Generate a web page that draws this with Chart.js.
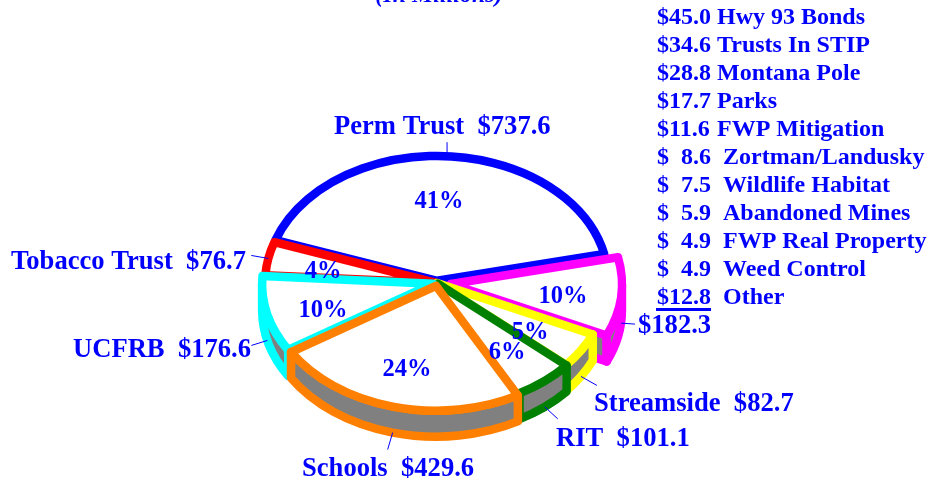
<!DOCTYPE html>
<html>
<head>
<meta charset="utf-8">
<style>html,body{margin:0;padding:0;background:#fff}canvas{display:block}</style>
<script src="https://cdn.jsdelivr.net/npm/chart.js@4/dist/chart.umd.min.js"></script>
</head>
<body>
<canvas id="c" width="927" height="482"></canvas>
<script>
// ---- data (clockwise from the left end of Perm Trust)
const categories = ['Perm Trust', 'Other', 'Streamside', 'RIT', 'Schools', 'UCFRB', 'Tobacco Trust'];
const values = [737.6, 182.3, 82.7, 101.1, 429.6, 176.6, 76.7];
const percentTexts = ['41%', '10%', '5%', '6%', '24%', '10%', '4%'];
const otherAmounts = ['$45.0', '$34.6', '$28.8', '$17.7', '$11.6', '$  8.6', '$  7.5', '$  5.9', '$  4.9', '$  4.9', '$12.8'];
const otherNames = ['Hwy 93 Bonds', 'Trusts In STIP', 'Montana Pole', 'Parks', 'FWP Mitigation', 'Zortman/Landusky', 'Wildlife Habitat', 'Abandoned Mines', 'FWP Real Property', 'Weed Control', 'Other'];
const otherTotal = '$182.3';
const unitsText = '(In Millions)';

// ---- style
const sliceColors = ['#0000ff', '#ff00ff', '#ffff00', '#008000', '#ff8000', '#00ffff', '#ff0000'];
const sliceOffsets = [3, 14, 0, 1, 4, 4, 1];
const paintOrder = [0, 6, 1, 2, 3, 5, 4];
const openEndEdge = [false, false, false, true, false, false, false];
const TEXT = '#0000ff', WALL = '#808080', SERIF = '"Liberation Serif"';
const SQUASH = 0.73, DEPTH = 26, LINE = 8.5;

// ---- text layout
const labelSpots = [[334, 134], [0, 0], [594, 411], [556, 446], [302, 476], [73, 357], [11, 269]];
const amountTexts = ['$737.6', '', '$82.7', '$101.1', '$429.6', '$176.6', '$76.7'];
const percentSpots = [[439, 208], [563, 303], [530, 339], [507, 359], [407, 376], [323, 317], [323, 278]];
const leaders = [[0, 0, -14], [1, 14, 1], [1, 16, 9], [1, 13, 12], [1, -5, 17], [1, -16, 5], [0, -17, -3]];

function geom(arc) {
  const p = arc.getProps(['x', 'y', 'startAngle', 'endAngle', 'outerRadius'], true);
  const mid = (p.startAngle + p.endAngle) / 2, off = arc.options.offset || 0;
  return {
    cx: p.x + off * Math.cos(mid), cy: p.y + off * Math.sin(mid) * SQUASH,
    rx: p.outerRadius, ry: p.outerRadius * SQUASH, s: p.startAngle, e: p.endAngle, mid, off
  };
}
function drawSlice(ctx, g, color, openEnd) {
  ctx.lineWidth = LINE; ctx.lineJoin = 'round'; ctx.lineCap = 'round'; ctx.strokeStyle = color; ctx.fillStyle = WALL;
  const two = Math.PI * 2;
  let s = ((g.s % two) + two) % two; if (s >= Math.PI) s -= two;
  const e = s + (g.e - g.s), lo = Math.max(s, 0), hi = Math.min(e, Math.PI);
  // radial face of a slice pulled well out of the pie
  if (g.off >= 10) {
    const x = g.cx + g.rx * Math.cos(g.e), y = g.cy + g.ry * Math.sin(g.e);
    ctx.beginPath();
    ctx.moveTo(g.cx, g.cy); ctx.lineTo(x, y); ctx.lineTo(x, y + DEPTH); ctx.lineTo(g.cx, g.cy + DEPTH);
    ctx.closePath(); ctx.fill(); ctx.stroke();
  }
  // outer wall
  if (hi > lo) {
    ctx.beginPath();
    ctx.ellipse(g.cx, g.cy, g.rx, g.ry, 0, lo, hi);
    ctx.ellipse(g.cx, g.cy + DEPTH, g.rx, g.ry, 0, hi, lo, true);
    ctx.closePath(); ctx.fill(); ctx.stroke();
  }
  // top face
  ctx.beginPath();
  ctx.moveTo(g.cx, g.cy);
  ctx.ellipse(g.cx, g.cy, g.rx, g.ry, 0, g.s, g.e);
  ctx.closePath();
  ctx.fillStyle = '#fff'; ctx.fill();
  ctx.beginPath();
  ctx.moveTo(g.cx, g.cy);
  ctx.ellipse(g.cx, g.cy, g.rx, g.ry, 0, g.s, g.e);
  if (!openEnd) ctx.lineTo(g.cx, g.cy);
  ctx.stroke();
}

const pie3d = {
  id: 'pie3d',
  beforeDatasetDraw(chart) {
    const ctx = chart.ctx, arcs = chart.getDatasetMeta(0).data;
    ctx.save();
    paintOrder.forEach(i => drawSlice(ctx, geom(arcs[i]), sliceColors[i], openEndEdge[i]));
    ctx.restore();
    return false;
  },
  afterDraw(chart) {
    const ctx = chart.ctx, arcs = chart.getDatasetMeta(0).data;
    ctx.save();
    // leader lines
    ctx.strokeStyle = TEXT; ctx.lineWidth = 1;
    leaders.forEach((l, i) => {
      const g = geom(arcs[i]);
      const x = g.cx + g.rx * Math.cos(g.mid), y = g.cy + g.ry * Math.sin(g.mid) + l[0] * DEPTH;
      ctx.beginPath(); ctx.moveTo(x, y); ctx.lineTo(x + l[1], y + l[2]); ctx.stroke();
    });
    ctx.fillStyle = TEXT; ctx.textBaseline = 'alphabetic'; ctx.textAlign = 'left';
    // slice labels
    ctx.font = 'bold 26.6px ' + SERIF;
    categories.forEach((c, i) => {
      if (amountTexts[i]) ctx.fillText(c + '  ' + amountTexts[i], labelSpots[i][0], labelSpots[i][1]);
    });
    ctx.fillText(otherTotal, 638, 333);
    // percents
    ctx.font = 'bold 24.5px ' + SERIF; ctx.textAlign = 'center';
    percentTexts.forEach((t, i) => ctx.fillText(t, percentSpots[i][0], percentSpots[i][1]));
    // units line, cut by the top of the page
    ctx.font = 'italic bold 24px ' + SERIF;
    ctx.fillText(unitsText, 439, 2);
    // breakdown of Other
    ctx.font = 'bold 24px ' + SERIF; ctx.textAlign = 'left';
    otherAmounts.forEach((a, i) => {
      const y = 24 + i * 28, name = a.includes('  ') || i === 10 ? 723 : 717;
      ctx.fillText(a, 657, y);
      ctx.fillText(otherNames[i], name, y);
    });
    ctx.fillRect(656, 308, 55, 3);
    ctx.restore();
  }
};

new Chart(document.getElementById('c'), {
  type: 'pie',
  data: {
    labels: categories,
    datasets: [{ data: values, offset: sliceOffsets, backgroundColor: sliceColors, borderColor: sliceColors, borderWidth: 0 }]
  },
  options: {
    responsive: false, animation: false, rotation: -71, radius: 171,
    layout: { padding: { left: 0, right: 53, top: 84, bottom: 0 } },
    plugins: { legend: { display: false }, tooltip: { enabled: false }, title: { display: false } }
  },
  plugins: [pie3d]
});
</script>
</body>
</html>
